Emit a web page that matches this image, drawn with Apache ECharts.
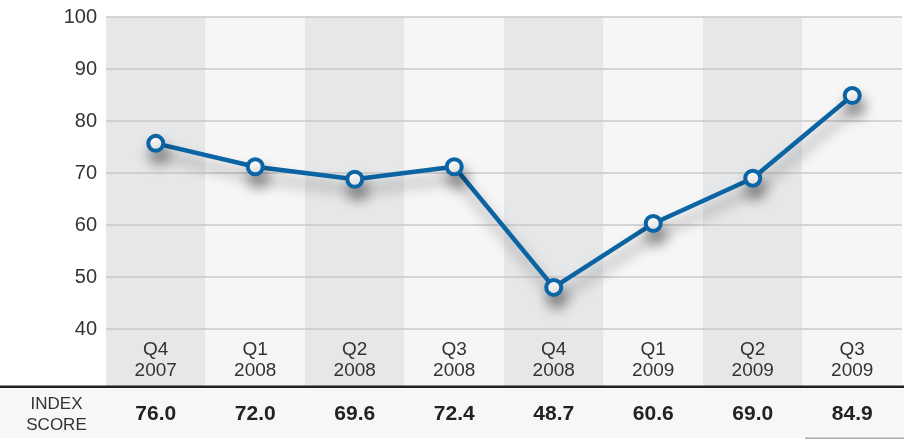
<!DOCTYPE html>
<html>
<head>
<meta charset="utf-8">
<script src="https://cdn.jsdelivr.net/npm/echarts@6/dist/echarts.min.js"></script>
<style>
html,body{margin:0;padding:0;background:#fff;}
#chart{width:904px;height:439px;}
</style>
</head>
<body>
<div id="chart"></div>
<script>
// Data
var quarters = ['Q4', 'Q1', 'Q2', 'Q3', 'Q4', 'Q1', 'Q2', 'Q3'];
var years = ['2007', '2008', '2008', '2008', '2008', '2009', '2009', '2009'];
var indexScores = ['76.0', '72.0', '69.6', '72.4', '48.7', '60.6', '69.0', '84.9'];
var plottedValues = [75.7, 71.2, 68.8, 71.2, 48.0, 60.3, 69.0, 84.9];
var yTicks = [40, 50, 60, 70, 80, 90, 100];
var rowLabel = 'INDEX\nSCORE';

var categories = quarters.map(function (q, i) { return q + '\n' + years[i]; });

var FONT = '"Liberation Sans", Arial, sans-serif';
var chart = echarts.init(document.getElementById('chart'), null, { renderer: 'canvas' });

var option = {
  backgroundColor: '#ffffff',
  animation: false,
  grid: [
    { left: 106, right: 2, top: 17, bottom: 53 },
    { left: 106, right: 2, top: 17, bottom: 110 }
  ],
  xAxis: [
    {
      gridIndex: 0, type: 'category', data: categories, position: 'bottom', z: 0,
      axisLine: { show: false }, axisTick: { show: false },
      axisLabel: { inside: true, margin: 5, color: '#333', fontSize: 19, lineHeight: 21, fontFamily: FONT },
      splitArea: { show: true, areaStyle: { color: ['#e6e7e9', '#f6f6f6'] } },
      splitLine: { show: false }
    },
    {
      gridIndex: 0, type: 'category', data: indexScores, position: 'bottom', z: 1,
      axisLine: { show: false }, axisTick: { show: false },
      axisLabel: { margin: 18, color: '#222', fontSize: 21, fontWeight: 'bold', fontFamily: FONT },
      splitLine: { show: false }
    },
    {
      gridIndex: 1, type: 'category', data: categories, show: false, boundaryGap: true
    }
  ],
  yAxis: [
    { gridIndex: 0, type: 'value', show: false, min: 0, max: 1 },
    {
      gridIndex: 1, type: 'value', min: yTicks[0], max: yTicks[yTicks.length - 1], interval: 10, z: 1,
      axisLine: { show: false }, axisTick: { show: false },
      axisLabel: { margin: 9, color: '#333', fontSize: 20, fontFamily: FONT, padding: [6, 0, 0, 0] },
      splitLine: { show: true, lineStyle: { color: '#c9c9c9', width: 1.5 } }
    }
  ],
  graphic: [
    { type: 'rect', z: -1, shape: { x: 0, y: 387, width: 904, height: 51 }, style: { fill: '#f7f7f7' }, silent: true },
    { type: 'rect', z: 10, shape: { x: 0, y: 385.5, width: 904, height: 2.5 }, style: { fill: '#231f20' }, silent: true },
    { type: 'rect', z: 10, shape: { x: 805, y: 437.5, width: 99, height: 1.5 }, style: { fill: '#aaaaaa' }, silent: true },
    { type: 'text', z: 10, x: 56.5, y: 415, style: { text: rowLabel, align: 'center', verticalAlign: 'middle', fill: '#333', fontSize: 17, lineHeight: 21, fontFamily: FONT } }
  ],
  series: [
    {
      type: 'line', xAxisIndex: 2, yAxisIndex: 1, data: plottedValues, z: 5,
      symbol: 'circle', symbolSize: 15,
      lineStyle: { color: '#0b64a3', width: 4.5, shadowColor: 'rgba(0,0,0,0.4)', shadowBlur: 14, shadowOffsetX: 3, shadowOffsetY: 11 },
      itemStyle: { color: '#ffffff', borderColor: '#0b64a3', borderWidth: 4, shadowColor: 'rgba(0,0,0,0.4)', shadowBlur: 14, shadowOffsetX: 3, shadowOffsetY: 11 },
      emphasis: { disabled: true }
    }
  ]
};
chart.setOption(option);
</script>
</body>
</html>
